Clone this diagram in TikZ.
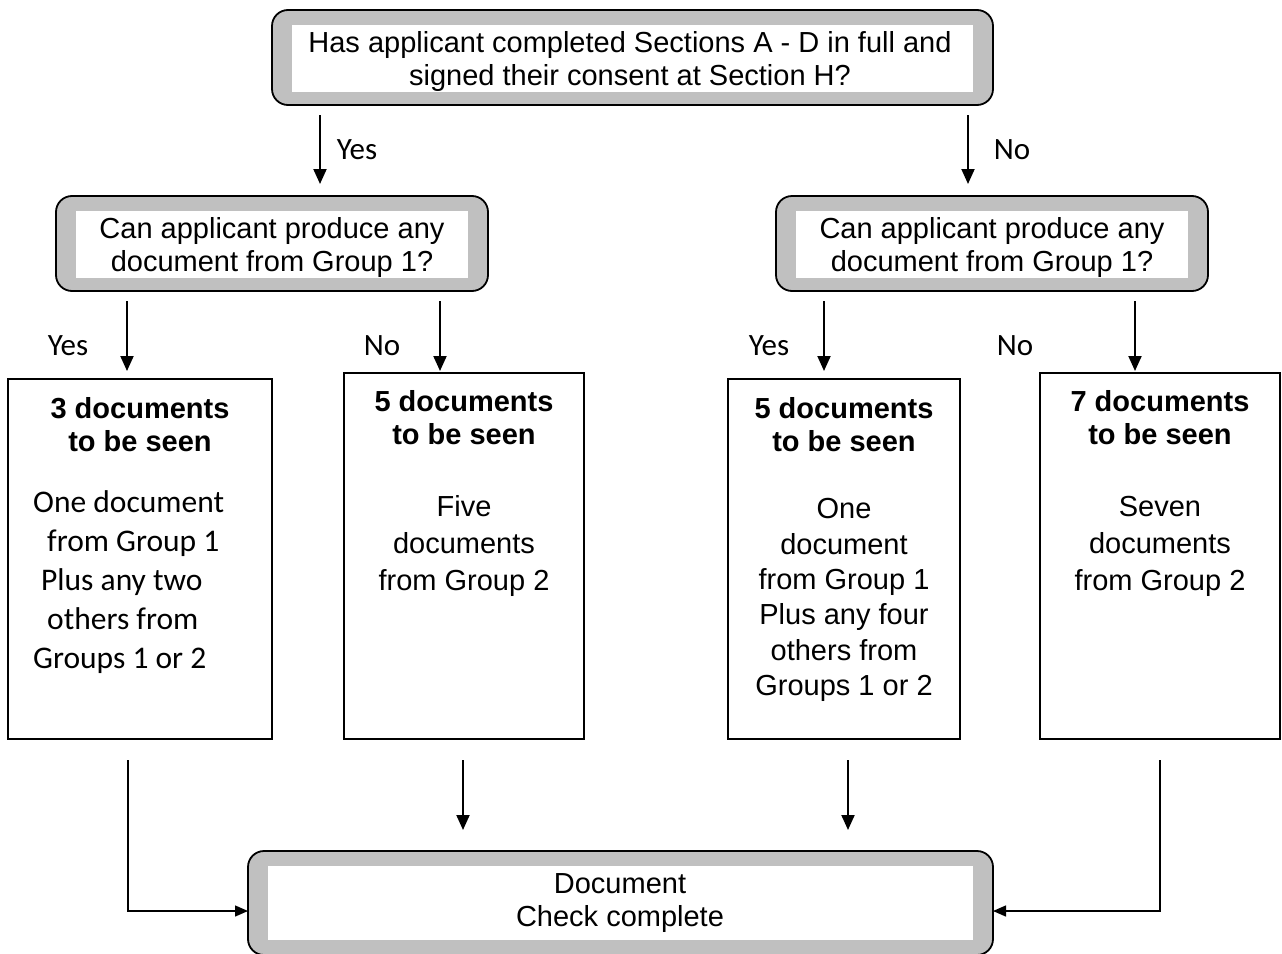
\documentclass[tikz,border=0pt]{standalone}
\usepackage{fontspec}
\setmainfont{Liberation Sans}
\newfontfamily\calib{Carlito}
\usetikzlibrary{arrows.meta,calc}
\definecolor{boxgray}{RGB}{192,192,192}
\begin{document}
\begin{tikzpicture}[x=1pt,y=-1pt,
  rbox/.style={draw=black,line width=1.8pt,fill=boxgray,rounded corners=16pt,inner sep=0pt,outer sep=0pt},
  dbox/.style={draw=black,line width=1.6pt,inner sep=0pt,outer sep=0pt},
  arr/.style={line width=2pt,-{Triangle[length=15pt,width=13pt]}},
  harr/.style={line width=1.4pt,-{Triangle[length=13pt,width=11pt]}},
  atxt/.style={font=\fontsize{29}{33}\selectfont,align=center,inner sep=0pt},
  btxt/.style={font=\fontsize{29}{33}\bfseries\selectfont,align=center,inner sep=0pt},
  ctxt/.style={font=\calib\fontsize{31.5}{39}\selectfont,inner sep=0pt},
  lbl/.style={font=\calib\fontsize{31}{37}\selectfont,inner sep=0pt}
]
\useasboundingbox (0,0) rectangle (1282,953);

% rounded decision boxes
\node[rbox,minimum width=721pt,minimum height=95pt] (top) at (632.5,57.5) {};
\fill[white] ($(top.north west)+(20,15)$) rectangle ($(top.south east)+(-20,-13)$);
\node[atxt] (toptxt) at (630,62) {Has applicant completed Sections A - D in full and\\signed their consent at Section H?};

\node[rbox,minimum width=432pt,minimum height=95pt] (dl) at (272,243.5) {};
\fill[white] ($(dl.north west)+(20,15)$) rectangle ($(dl.south east)+(-20,-13)$);
\node[atxt] (dltxt) at (272,247.5) {Can applicant produce any\\document from Group 1?};

\node[rbox,minimum width=432pt,minimum height=95pt] (dr) at (992,243.5) {};
\fill[white] ($(dr.north west)+(20,15)$) rectangle ($(dr.south east)+(-20,-13)$);
\node[atxt] (drtxt) at (992,247.5) {Can applicant produce any\\document from Group 1?};

\node[rbox,minimum width=745pt,minimum height=104pt] (bot) at (620.5,903) {};
\fill[white] ($(bot.north west)+(20,15)$) rectangle ($(bot.south east)+(-20,-15)$);
\node[atxt] (bottxt) at (620,903) {Document\\Check complete};

% outcome boxes
\node[dbox,minimum width=264pt,minimum height=360pt] (b1) at (140,559) {};
\node[dbox,minimum width=240pt,minimum height=366pt] (b2) at (464,556) {};
\node[dbox,minimum width=232pt,minimum height=360pt] (b3) at (844,559) {};
\node[dbox,minimum width=240pt,minimum height=366pt] (b4) at (1160,556) {};

\node[btxt] (b1t) at (140,424.5) {3 documents\\to be seen};
\node[ctxt,align=left,anchor=west] (b1b) at (33,582) {One document\\\hspace*{14pt}from Group 1\\\hspace*{8pt}Plus any two\\\hspace*{14pt}others from\\Groups 1 or 2};

\node[btxt] (b2t) at (464,418) {5 documents\\to be seen};
\node[atxt,font=\fontsize{29}{37}\selectfont] (b2b) at (464,546) {Five\\documents\\from Group 2};

\node[btxt] (b3t) at (844,424.5) {5 documents\\to be seen};
\node[atxt,font=\fontsize{29}{35.4}\selectfont] (b3b) at (844,600) {One\\document\\from Group 1\\Plus any four\\others from\\Groups 1 or 2};

\node[btxt] (b4t) at (1160,418) {7 documents\\to be seen};
\node[atxt,font=\fontsize{29}{37}\selectfont] (b4b) at (1160,546) {Seven\\documents\\from Group 2};

% labels
\node[lbl] (l1) at (357,150) {Yes};
\node[lbl] (l2) at (1012,150) {No};
\node[lbl] (l3) at (68,346) {Yes};
\node[lbl] (l4) at (382,346) {No};
\node[lbl] (l5) at (769,346) {Yes};
\node[lbl] (l6) at (1015,346) {No};

% connector end points
\coordinate (a1s) at (320,115); \coordinate (a1e) at (320,184);
\coordinate (a2s) at (968,115); \coordinate (a2e) at (968,184);
\coordinate (a3s) at (127,301); \coordinate (a3e) at (127,371);
\coordinate (a4s) at (440,301); \coordinate (a4e) at (440,371);
\coordinate (a5s) at (824,301); \coordinate (a5e) at (824,371);
\coordinate (a6s) at (1135,301); \coordinate (a6e) at (1135,371);
\coordinate (a7s) at (463,760); \coordinate (a7e) at (463,830);
\coordinate (a8s) at (848,760); \coordinate (a8e) at (848,830);
\coordinate (a9s) at (128,760); \coordinate (a10s) at (1160,760);

\draw[arr] (a1s) -- (a1e);
\draw[arr] (a2s) -- (a2e);
\draw[arr] (a3s) -- (a3e);
\draw[arr] (a4s) -- (a4e);
\draw[arr] (a5s) -- (a5e);
\draw[arr] (a6s) -- (a6e);
\draw[arr] (a7s) -- (a7e);
\draw[arr] (a8s) -- (a8e);
\draw[harr] (a9s) |- ($(bot.west)+(0,8)$);
\draw[harr] (a10s) |- ($(bot.east)+(0,8)$);
\end{tikzpicture}
\end{document}
